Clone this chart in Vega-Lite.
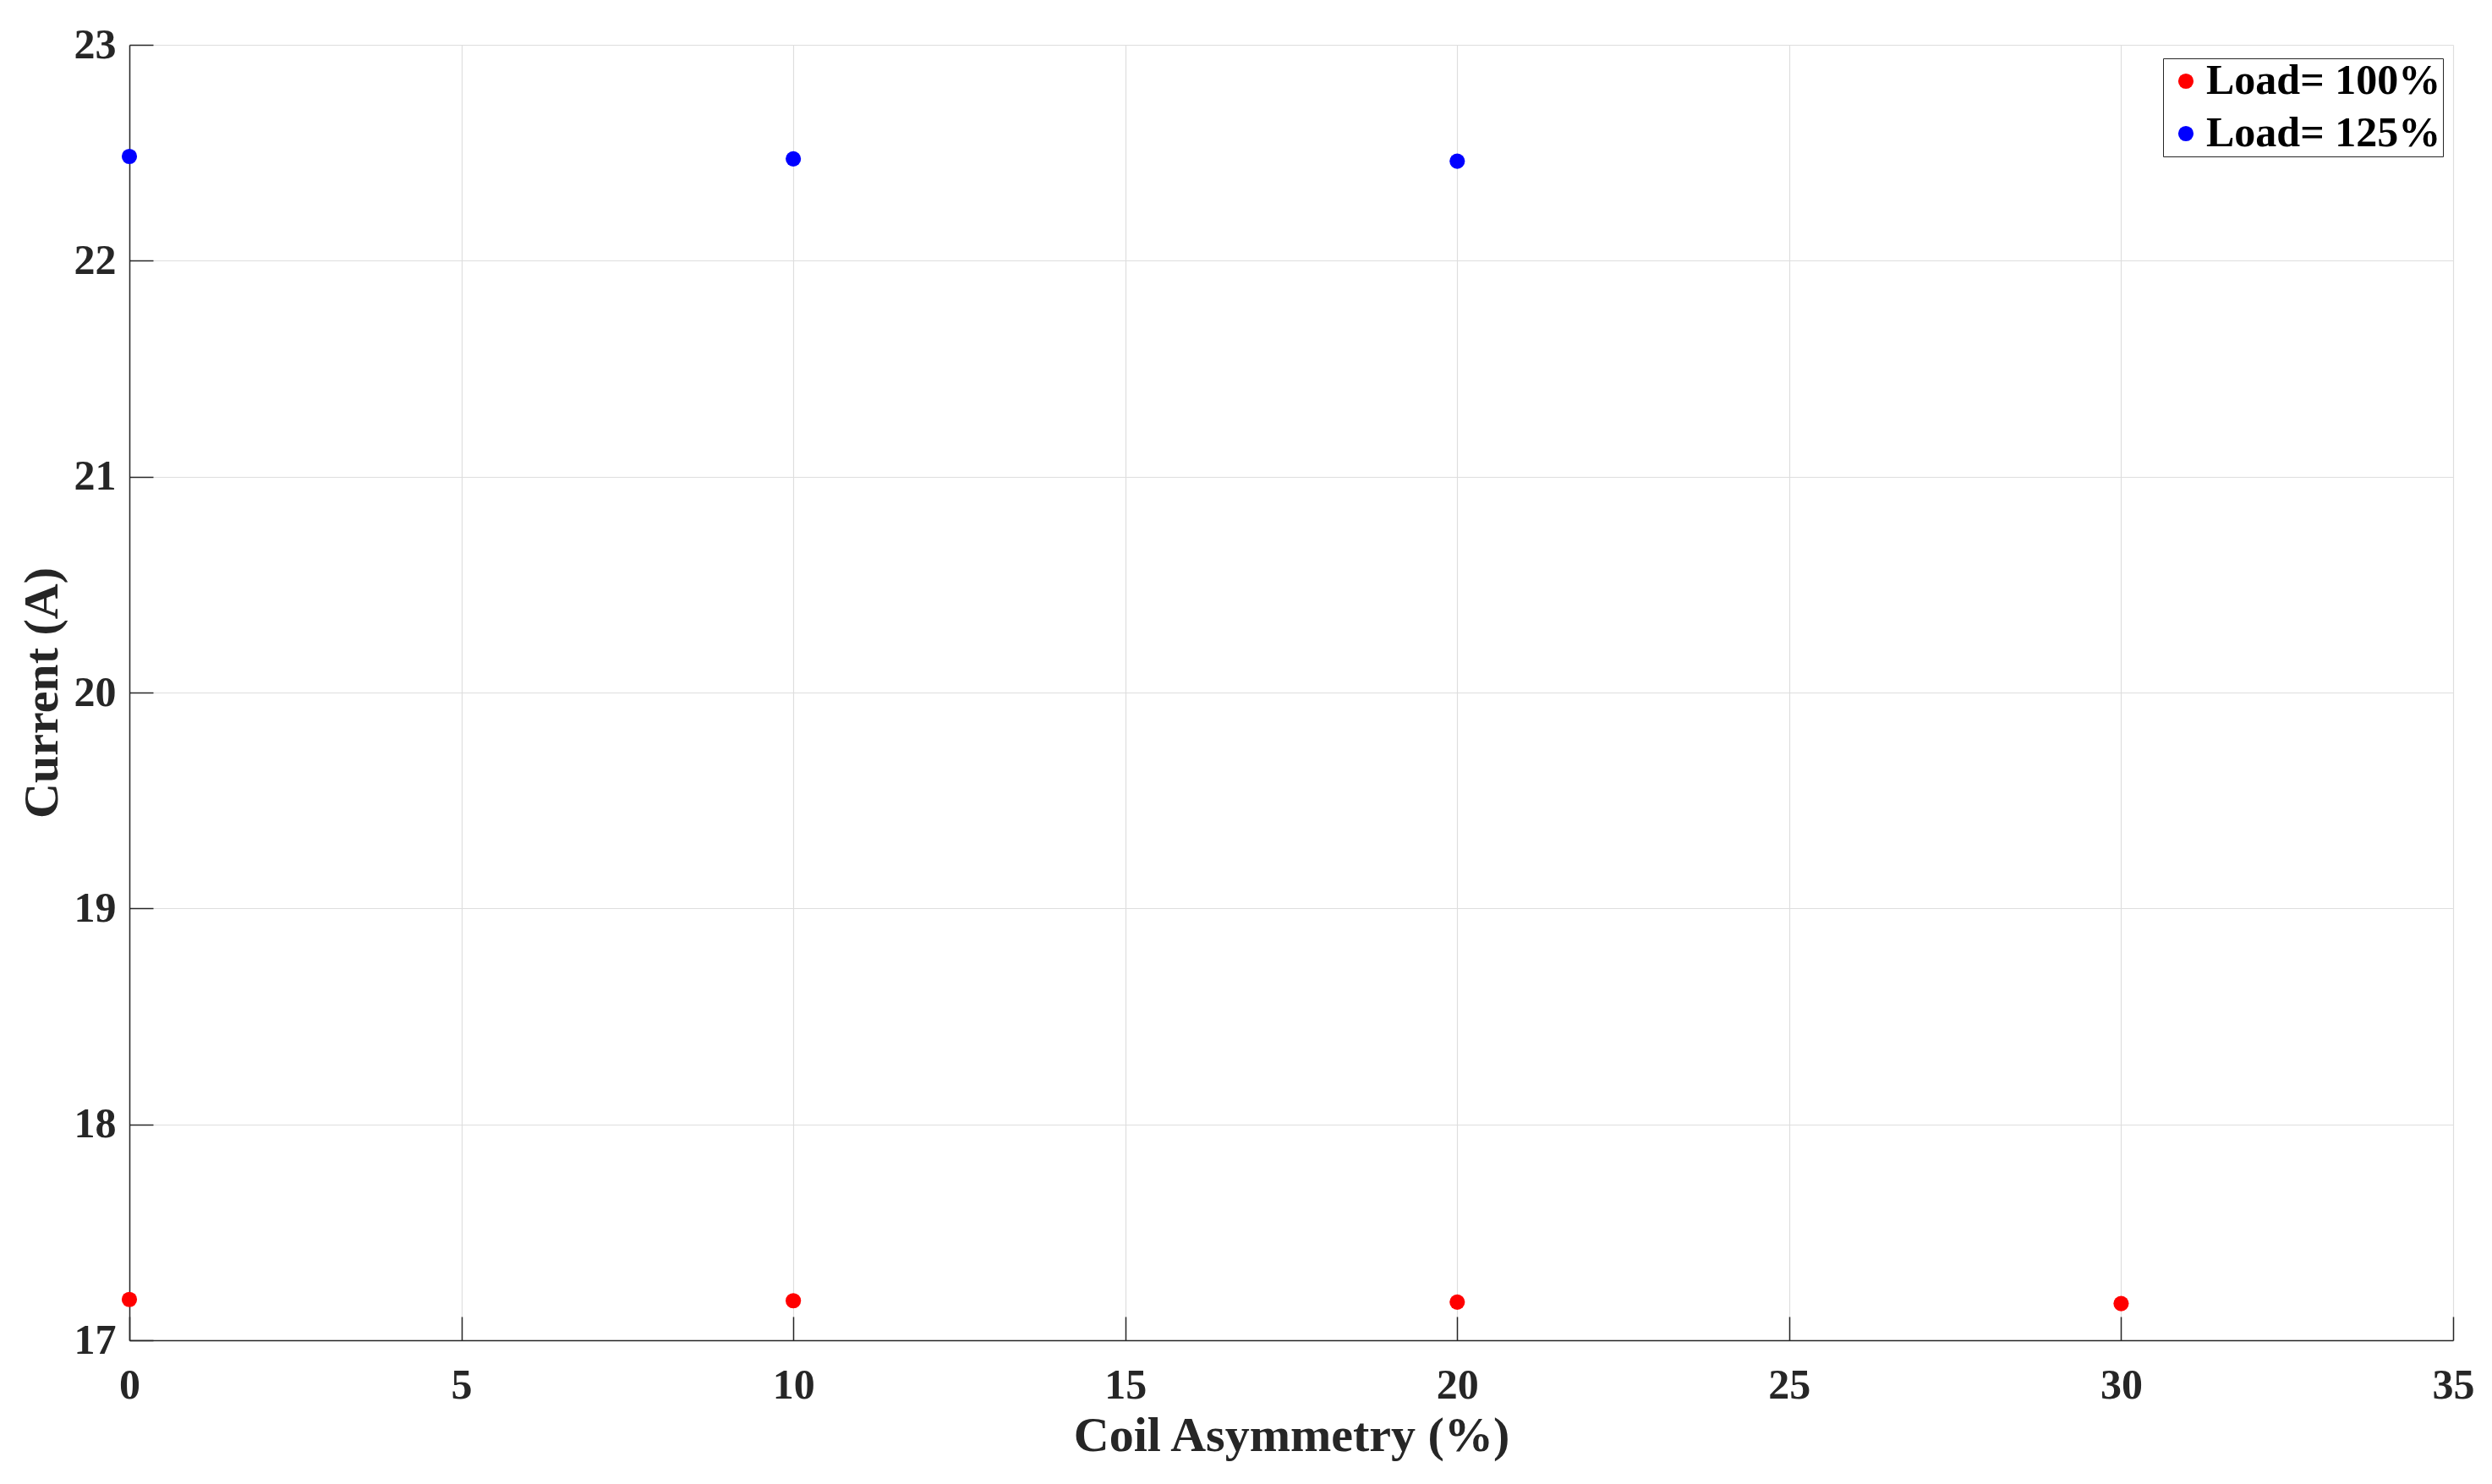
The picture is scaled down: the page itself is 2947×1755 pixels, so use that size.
{
  "$schema": "https://vega.github.io/schema/vega-lite/v6.json",
  "width": 2748,
  "height": 1532,
  "autosize": {"type": "none"},
  "padding": {"left": 153, "top": 53, "right": 46, "bottom": 170},
  "background": "white",
  "config": {
    "view": {"stroke": null},
    "font": "Liberation Serif",
    "axis": {
      "labelFont": "Liberation Serif",
      "labelFontWeight": "bold",
      "labelFontSize": 50,
      "labelColor": "#262626",
      "labelFlush": false,
      "labelOverlap": false,
      "titleFont": "Liberation Serif",
      "titleFontWeight": "bold",
      "titleFontSize": 58,
      "titleColor": "#262626",
      "domainColor": "#262626",
      "domainWidth": 1.5,
      "tickColor": "#262626",
      "tickWidth": 1.5,
      "gridColor": "#dedede",
      "gridWidth": 1.2
    }
  },
  "data": {
    "values": [
      {"asym": 0, "current": 17.189, "load": "Load= 100%"},
      {"asym": 10, "current": 17.183, "load": "Load= 100%"},
      {"asym": 20, "current": 17.177, "load": "Load= 100%"},
      {"asym": 30, "current": 17.170, "load": "Load= 100%"},
      {"asym": 0, "current": 22.483, "load": "Load= 125%"},
      {"asym": 10, "current": 22.472, "load": "Load= 125%"},
      {"asym": 20, "current": 22.461, "load": "Load= 125%"}
    ]
  },
  "mark": {"type": "point", "filled": true, "shape": "circle", "size": 330, "opacity": 1},
  "encoding": {
    "x": {
      "field": "asym", "type": "quantitative",
      "scale": {"domain": [0, 35], "nice": false, "zero": false},
      "axis": {"title": "Coil Asymmetry (%)", "values": [0, 5, 10, 15, 20, 25, 30, 35], "tickSize": -28, "labelPadding": 56, "titlePadding": 6}
    },
    "y": {
      "field": "current", "type": "quantitative",
      "scale": {"domain": [17, 23], "nice": false, "zero": false},
      "axis": {"title": "Current (A)", "values": [17, 18, 19, 20, 21, 22, 23], "tickSize": -28, "labelPadding": 44, "titlePadding": 8}
    },
    "color": {
      "field": "load", "type": "nominal",
      "scale": {"domain": ["Load= 100%", "Load= 125%"], "range": ["#ff0000", "#0000ff"]},
      "legend": {
        "title": null,
        "orient": "none",
        "legendX": 2405,
        "legendY": 16,
        "fillColor": "white",
        "strokeColor": "#262626",
        "padding": 2,
        "labelFont": "Liberation Serif",
        "labelFontWeight": "bold",
        "labelFontSize": 50,
        "labelLimit": 0,
        "labelColor": "#000000",
        "symbolType": "circle",
        "symbolSize": 330,
        "symbolStrokeWidth": 0,
        "rowPadding": 12,
        "labelOffset": -1
      }
    }
  }
}
